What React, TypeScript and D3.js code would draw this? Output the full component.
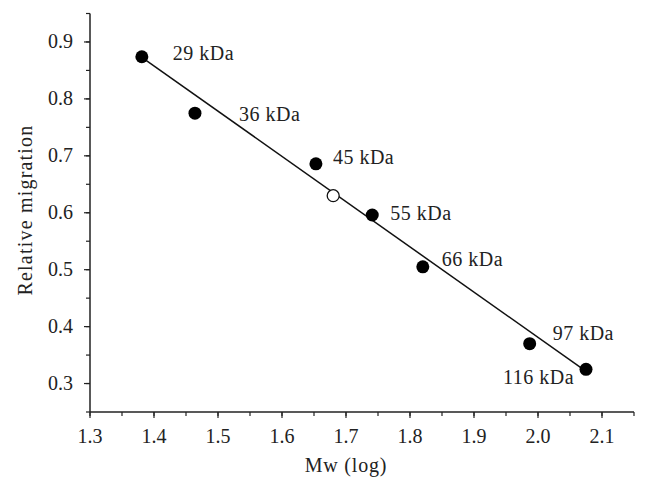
import React from "react";
import * as d3 from "d3";

// markers (Mw log vs relative migration)
const markerLabels = ["29 kDa", "36 kDa", "45 kDa", "55 kDa", "66 kDa", "97 kDa", "116 kDa"];
const markerX = [1.381, 1.464, 1.653, 1.741, 1.82, 1.987, 2.075];
const markerY = [0.874, 0.775, 0.686, 0.596, 0.505, 0.37, 0.325];

// unknown sample (open circle)
const sampleX = [1.68];
const sampleY = [0.63];

// fitted line ends
const fitX = [1.381, 2.068];
const fitY = [0.873, 0.327];

const xTicks = [1.3, 1.4, 1.5, 1.6, 1.7, 1.8, 1.9, 2.0, 2.1];
const yTicks = [0.3, 0.4, 0.5, 0.6, 0.7, 0.8, 0.9];

// label offsets from each point, px
const labelDx = [31, 44, 17, 18, 19, 23, -83];
const labelDy = [3, 8, 0, 5, -1, -4, 15];

const W = 648;
const H = 495;
const FONT = "'Liberation Serif', 'DejaVu Serif', serif";
const INK = "#222";

export default function App() {
  const x = d3.scaleLinear().domain([1.3, 2.15]).range([90, 634]);
  const y = d3.scaleLinear().domain([0.25, 0.95]).range([412, 13.5]);

  const xMinor = d3.range(1.3, 2.151, 0.05).map((v) => +v.toFixed(2));
  const yMinor = d3.range(0.25, 0.951, 0.05).map((v) => +v.toFixed(2));

  const line = d3
    .line<number>()
    .x((d, i) => x(fitX[i]))
    .y((d, i) => y(fitY[i]));

  return (
    <svg width={W} height={H} style={{ position: "absolute", left: 0, top: 0 }} fontFamily={FONT}>
      <rect width={W} height={H} fill="#fff" />

      {/* axes */}
      <line x1={x(1.3)} x2={x(2.15)} y1={y(0.25)} y2={y(0.25)} stroke={INK} strokeWidth={1.5} />
      <line x1={x(1.3)} x2={x(1.3)} y1={y(0.25)} y2={y(0.95)} stroke={INK} strokeWidth={1.5} />

      {xMinor.map((v) => (
        <line key={"xm" + v} x1={x(v)} x2={x(v)} y1={y(0.25)} y2={y(0.25) + 4} stroke={INK} strokeWidth={1.2} />
      ))}
      {xTicks.map((v) => (
        <g key={"x" + v}>
          <line x1={x(v)} x2={x(v)} y1={y(0.25)} y2={y(0.25) + 6} stroke={INK} strokeWidth={1.2} />
          <text x={x(v)} y={y(0.25) + 31} textAnchor="middle" fontSize={20} fill={INK}>
            {v.toFixed(1)}
          </text>
        </g>
      ))}

      {yMinor.map((v) => (
        <line key={"ym" + v} x1={x(1.3) - 4} x2={x(1.3)} y1={y(v)} y2={y(v)} stroke={INK} strokeWidth={1.2} />
      ))}
      {yTicks.map((v) => (
        <g key={"y" + v}>
          <line x1={x(1.3) - 6} x2={x(1.3)} y1={y(v)} y2={y(v)} stroke={INK} strokeWidth={1.2} />
          <text x={x(1.3) - 17} y={y(v) + 6.5} textAnchor="end" fontSize={20} fill={INK}>
            {v.toFixed(1)}
          </text>
        </g>
      ))}

      <text x={346} y={472} textAnchor="middle" fontSize={20} letterSpacing={0.8} fill={INK}>
        Mw (log)
      </text>
      <text transform="translate(32,210) rotate(-90)" textAnchor="middle" fontSize={20} letterSpacing={1.2} fill={INK}>
        Relative migration
      </text>

      {/* fit line */}
      <path d={line(fitX) || ""} fill="none" stroke="#111" strokeWidth={1.5} />

      {markerX.map((v, i) => (
        <g key={markerLabels[i]}>
          <circle cx={x(v)} cy={y(markerY[i])} r={6.5} fill="#000" />
          <text x={x(v) + labelDx[i]} y={y(markerY[i]) + labelDy[i]} fontSize={20} letterSpacing={0.5} fill={INK}>
            {markerLabels[i]}
          </text>
        </g>
      ))}

      {sampleX.map((v, i) => (
        <circle key={"s" + i} cx={x(v)} cy={y(sampleY[i])} r={6} fill="#fff" stroke="#111" strokeWidth={1.3} />
      ))}
    </svg>
  );
}
